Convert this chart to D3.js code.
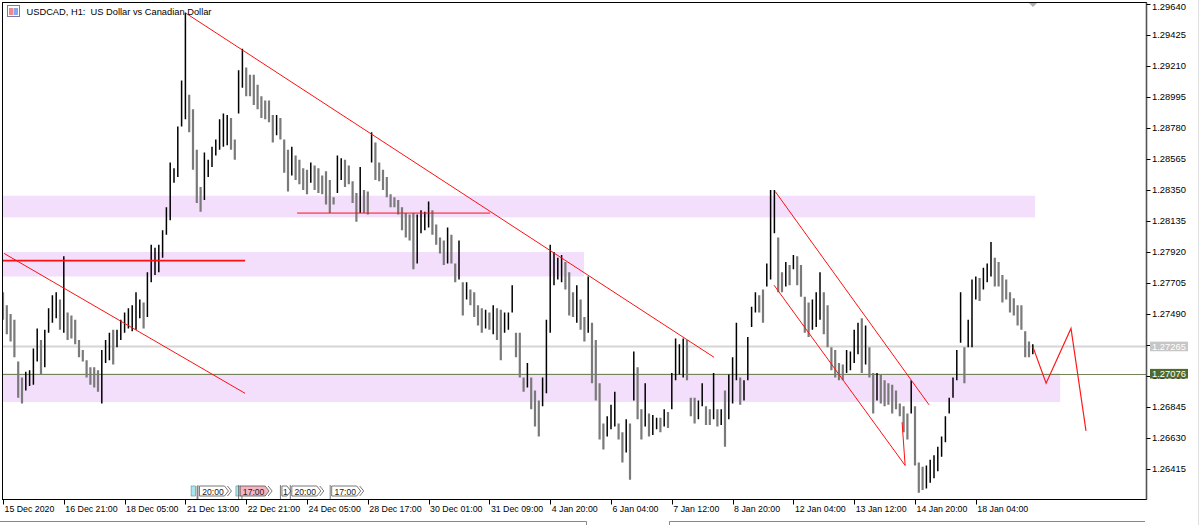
<!DOCTYPE html>
<html><head><meta charset="utf-8">
<script src="https://cdn.jsdelivr.net/npm/d3@7"></script>
<style>
body{margin:0;background:#fff}
svg{display:block}
text{font-family:"Liberation Sans",Arial,sans-serif;white-space:pre}
</style>
</head><body>
<svg id="chart" width="1200" height="525"></svg>
<script>
// ---------------- DATA ----------------
const symbolTitle = "USDCAD, H1:  US Dollar vs Canadian Dollar";

// each entry = one pair of H1 bars (high / low)
const barHigh = [
1.2764,1.2755,1.2749,1.2745,1.2716,1.2705,1.2709,1.2710,1.2725,1.2739,
1.2731,1.2738,1.2753,1.2762,1.2764,1.2759,1.2789,1.2750,1.2748,1.2745,
1.2731,1.2724,1.2717,1.2712,1.2712,1.2710,1.2724,1.2731,1.2736,1.2738,
1.2738,1.2745,1.2750,1.2753,1.2755,1.2764,1.2759,1.2757,1.2778,1.2797,
1.2795,1.2797,1.2807,1.2823,1.2854,1.2850,1.2879,1.2911,1.2958,1.2901,
1.2891,1.2863,1.2837,1.2861,1.2856,1.2865,1.2870,1.2884,1.2888,1.2887,
1.2885,1.2870,1.2918,1.2933,1.2920,1.2915,1.2915,1.2908,1.2900,1.2897,
1.2897,1.2887,1.2887,1.2885,1.2870,1.2863,1.2865,1.2859,1.2856,1.2850,
1.2849,1.2854,1.2852,1.2850,1.2845,1.2848,1.2842,1.2830,1.2859,1.2857,
1.2856,1.2852,1.2841,1.2833,1.2851,1.2835,1.2834,1.2875,1.2868,1.2854,
1.2849,1.2844,1.2832,1.2830,1.2828,1.2823,1.2819,1.2818,1.2819,1.2818,
1.2821,1.2820,1.2827,1.2821,1.2811,1.2802,1.2800,1.2809,1.2804,1.2784,
1.2800,1.2771,1.2771,1.2766,1.2764,1.2755,1.2753,1.2752,1.2750,1.2755,
1.2753,1.2752,1.2750,1.2750,1.2769,1.2736,1.2736,1.2705,1.2715,1.2705,
1.2696,1.2689,1.2705,1.2745,1.2797,1.2792,1.2788,1.2790,1.2785,1.2778,
1.2764,1.2769,1.2759,1.2747,1.2775,1.2743,1.2731,1.2701,1.2673,1.2678,
1.2686,1.2695,1.2673,1.2667,1.2676,1.2673,1.2723,1.2712,1.2683,1.2701,
1.2680,1.2679,1.2677,1.2677,1.2683,1.2681,1.2708,1.2732,1.2728,1.2732,
1.2731,1.2691,1.2691,1.2689,1.2701,1.2685,1.2683,1.2708,1.2683,1.2683,
1.2696,1.2707,1.2719,1.2743,1.2705,1.2703,1.2733,1.2754,1.2764,1.2762,
1.2766,1.2784,1.2835,1.2835,1.2802,1.2778,1.2785,1.2783,1.2790,1.2789,
1.2783,1.2761,1.2757,1.2759,1.2764,1.2778,1.2764,1.2755,1.2726,1.2724,
1.2715,1.2714,1.2724,1.2723,1.2738,1.2743,1.2746,1.2741,1.2726,1.2708,
1.2708,1.2707,1.2703,1.2701,1.2700,1.2696,1.2687,1.2685,1.2680,1.2703,
1.2685,1.2646,1.2643,1.2644,1.2648,1.2651,1.2657,1.2664,1.2678,1.2691,
1.2705,1.2724,1.2764,1.2726,1.2745,1.2773,1.2775,1.2774,1.2781,1.2784,
1.2799,1.2788,1.2785,1.2776,1.2773,1.2764,1.2760,1.2755,1.2755,1.2737,
1.2730,1.2728];

const barLow = [
1.2745,1.2735,1.2730,1.2719,1.2691,1.2687,1.2696,1.2699,1.2700,1.2716,
1.2707,1.2712,1.2736,1.2743,1.2746,1.2738,1.2736,1.2731,1.2732,1.2728,
1.2719,1.2716,1.2705,1.2700,1.2698,1.2695,1.2687,1.2715,1.2717,1.2714,
1.2726,1.2731,1.2736,1.2739,1.2737,1.2738,1.2746,1.2739,1.2747,1.2771,
1.2776,1.2778,1.2788,1.2804,1.2814,1.2840,1.2844,1.2879,1.2884,1.2875,
1.2849,1.2826,1.2820,1.2828,1.2844,1.2851,1.2859,1.2863,1.2865,1.2866,
1.2863,1.2856,1.2888,1.2906,1.2900,1.2900,1.2894,1.2891,1.2885,1.2884,
1.2882,1.2868,1.2873,1.2870,1.2847,1.2834,1.2845,1.2842,1.2839,1.2835,
1.2832,1.2840,1.2835,1.2833,1.2832,1.2825,1.2819,1.2825,1.2833,1.2842,
1.2837,1.2839,1.2826,1.2813,1.2819,1.2819,1.2818,1.2854,1.2842,1.2841,
1.2835,1.2830,1.2823,1.2823,1.2818,1.2807,1.2802,1.2800,1.2780,1.2784,
1.2805,1.2807,1.2809,1.2804,1.2797,1.2791,1.2783,1.2784,1.2784,1.2771,
1.2773,1.2748,1.2759,1.2755,1.2747,1.2741,1.2736,1.2739,1.2738,1.2735,
1.2731,1.2717,1.2736,1.2738,1.2750,1.2719,1.2705,1.2695,1.2698,1.2683,
1.2671,1.2664,1.2685,1.2694,1.2736,1.2769,1.2773,1.2771,1.2766,1.2748,
1.2747,1.2743,1.2738,1.2730,1.2736,1.2701,1.2689,1.2662,1.2655,1.2664,
1.2669,1.2671,1.2662,1.2646,1.2653,1.2634,1.2689,1.2676,1.2662,1.2671,
1.2664,1.2665,1.2669,1.2667,1.2671,1.2670,1.2683,1.2703,1.2707,1.2705,
1.2703,1.2678,1.2673,1.2676,1.2685,1.2672,1.2672,1.2676,1.2671,1.2672,
1.2657,1.2676,1.2687,1.2703,1.2686,1.2689,1.2703,1.2740,1.2750,1.2750,
1.2743,1.2768,1.2773,1.2805,1.2764,1.2764,1.2768,1.2769,1.2780,1.2769,
1.2761,1.2736,1.2733,1.2738,1.2740,1.2745,1.2735,1.2726,1.2710,1.2705,
1.2703,1.2703,1.2708,1.2710,1.2715,1.2721,1.2708,1.2714,1.2705,1.2680,
1.2689,1.2687,1.2685,1.2686,1.2680,1.2683,1.2678,1.2667,1.2662,1.2680,
1.2644,1.2625,1.2627,1.2628,1.2632,1.2635,1.2640,1.2650,1.2660,1.2680,
1.2691,1.2703,1.2729,1.2701,1.2726,1.2726,1.2759,1.2758,1.2766,1.2771,
1.2775,1.2768,1.2768,1.2757,1.2759,1.2750,1.2748,1.2741,1.2738,1.2719,
1.2719,1.2721];

const timeLabels = ["15 Dec 2020","16 Dec 21:00","18 Dec 05:00","21 Dec 13:00","22 Dec 21:00",
  "24 Dec 05:00","28 Dec 17:00","30 Dec 01:00","31 Dec 09:00","4 Jan 20:00","6 Jan 04:00",
  "7 Jan 12:00","8 Jan 20:00","12 Jan 04:00","13 Jan 12:00","14 Jan 20:00","18 Jan 04:00"];
const barsPerLabel = 16;

const priceTicks = [1.29640,1.29425,1.29210,1.28995,1.28780,1.28565,1.28350,1.28135,
  1.27920,1.27705,1.27490,1.27275,1.27060,1.26845,1.26630,1.26415];

const askPrice = 1.27265;
const bidPrice = 1.27076;

// supply / demand zones: bar index range and price range
const zoneFrom   = [0, 0, 0];
const zoneTo     = [271.6, 152.9, 278.2];
const zoneTop    = [1.2831, 1.2792, 1.2708];
const zoneBottom = [1.2816, 1.2775, 1.2688];

// trend lines: [barIndex, price] pairs
const trendLines = [
  [[47.9,1.2958],[187.1,1.2719]],
  [[0.3,1.2791],[63.7,1.2694]],
  [[0,1.2786],[63.7,1.2786]],
  [[77.4,1.2819],[128.2,1.2819]],
  [[203.2,1.2834],[243.7,1.2686]],
  [[202.9,1.2769],[237.4,1.2644]],
  [[236.6,1.2674],[237.4,1.2644]]
];
const projection = [[271.05,1.2726],[274.5,1.2701],[281.05,1.2739],[285,1.2668]];

const eventAt    = [49.5, 51.7, 61.3, 62.4, 73.4, 76.0, 86.5];
const eventLabel = ["1", "20:00", "", "17:00", "1", "20:00", "17:00"];
const eventKind  = ["cyan", "plain", "cyan", "pink", "plain", "plain", "plain"];

// ---------------- DRAW ----------------
const svg = d3.select("#chart");
const L = 2.5, R = 1146.5, T = 2.5, B = 499.5;

const x = d3.scaleLinear().domain([0, barHigh.length - 1]).range([3, 3 + (barHigh.length - 1) * 3.8]);
const y = d3.scaleLinear().domain([1.26415, 1.29640]).range([469, 4]);

svg.append("defs").append("clipPath").attr("id","plot")
  .append("rect").attr("x",L).attr("y",T).attr("width",R-L).attr("height",B-T);

const plot = svg.append("g").attr("clip-path","url(#plot)");

// zones
plot.selectAll("rect.zone").data(zoneFrom).join("rect")
  .attr("class","zone")
  .attr("x",(d,i)=>x(zoneFrom[i]))
  .attr("width",(d,i)=>x(zoneTo[i])-x(zoneFrom[i]))
  .attr("y",(d,i)=>y(zoneTop[i]))
  .attr("height",(d,i)=>y(zoneBottom[i])-y(zoneTop[i]))
  .attr("fill","#f3defb");

// ask / bid lines
plot.append("line").attr("x1",L).attr("x2",R).attr("y1",y(askPrice)).attr("y2",y(askPrice))
  .attr("stroke","#d6d6d6").attr("stroke-width",2);
plot.append("line").attr("x1",L).attr("x2",R).attr("y1",Math.round(y(bidPrice))+0.5).attr("y2",Math.round(y(bidPrice))+0.5)
  .attr("stroke","#74845a").attr("stroke-width",1.2);

// bars
const mids = barHigh.map((h,i)=>(h+barLow[i])/2);
const isUp = i => i>0 && mids[i] >= mids[i-1];
plot.selectAll("line.bar").data(barHigh).join("line")
  .attr("class","bar")
  .attr("x1",(d,i)=>x(i)).attr("x2",(d,i)=>x(i))
  .attr("y1",(d,i)=>y(barHigh[i])).attr("y2",(d,i)=>y(barLow[i]))
  .attr("stroke",(d,i)=> isUp(i) ? "#000" : "#7a7a7a")
  .attr("stroke-width",(d,i)=> isUp(i) ? 1.5 : 2.2);

// trend lines
const lineGen = d3.line().x(d=>x(d[0])).y(d=>y(d[1]));
plot.selectAll("path.trend").data(trendLines).join("path")
  .attr("class","trend")
  .attr("d",lineGen)
  .attr("fill","none")
  .attr("stroke","#ff1010")
  .attr("stroke-width",(d,i)=> i===2 ? 1.6 : 1);
plot.append("path").attr("d",lineGen(projection))
  .attr("fill","none").attr("stroke","#ff1a1a").attr("stroke-width",1.2);

// event flags at bottom
const evG = svg.append("g");
eventAt.forEach((a,i)=>{
  const x0 = x(a);
  const lab = eventLabel[i];
  const kind = eventKind[i];
  if (kind === "cyan") {
    evG.append("rect").attr("x",x0).attr("y",486).attr("width",4.5).attr("height",10)
      .attr("fill","#a8e6ee").attr("stroke","#6a8a90").attr("stroke-width",0.6);
    evG.append("line").attr("x1",x0+6).attr("x2",x0+6).attr("y1",486).attr("y2",499)
      .attr("stroke","#555").attr("stroke-width",0.8);
    return;
  }
  const w = lab.length === 1 ? 5 : 25;
  evG.append("line").attr("x1",x0-1.5).attr("x2",x0-1.5).attr("y1",485).attr("y2",499)
    .attr("stroke","#555").attr("stroke-width",0.8);
  evG.append("path")
    .attr("d",`M${x0},486 H${x0+w} L${x0+w+4},491 L${x0+w},496 H${x0} Z`)
    .attr("fill", kind==="pink" ? "#f7b3c2" : "#fff")
    .attr("stroke","#555").attr("stroke-width",0.8);
  if (lab.length > 1) {
    evG.append("path")
      .attr("d",`M${x0+w+3},486 L${x0+w+7},491 L${x0+w+3},496`)
      .attr("fill","none").attr("stroke","#555").attr("stroke-width",0.8);
  }
  evG.append("text").attr("x",x0+ (w+2)/2).attr("y",494.5).attr("text-anchor","middle")
    .attr("font-size",8.6).attr("fill","#222").text(lab);
});

// frame
svg.append("rect").attr("x",L).attr("y",T).attr("width",R-L).attr("height",B-T)
  .attr("fill","none").attr("stroke","#000").attr("stroke-width",1);
svg.append("line").attr("x1",R).attr("x2",R).attr("y1",T).attr("y2",B)
  .attr("stroke","#555").attr("stroke-width",1.6);

// shift marker
svg.append("path").attr("d","M1029,3 L1037,3 L1033,7 Z").attr("fill","#b0b0b0");

// title
const tg = svg.append("g");
tg.append("rect").attr("x",7.5).attr("y",5.5).attr("width",12).attr("height",11)
  .attr("fill","#fff").attr("stroke","#7a7aa0");
tg.append("rect").attr("x",9).attr("y",8).attr("width",4).attr("height",7).attr("fill","#f08a8a");
tg.append("rect").attr("x",13.5).attr("y",8).attr("width",4.5).attr("height",7).attr("fill","#8aa6f0");
tg.append("text").attr("x",26.5).attr("y",14.5).attr("font-size",9.3).attr("fill","#000")
  .attr("xml:space","preserve").text(symbolTitle);

// price axis
const yAxis = svg.append("g");
yAxis.selectAll("line").data(priceTicks).join("line")
  .attr("x1",R).attr("x2",R+4)
  .attr("y1",d=>Math.round(y(d))+0.5).attr("y2",d=>Math.round(y(d))+0.5)
  .attr("stroke","#000");
yAxis.selectAll("text").data(priceTicks).join("text")
  .attr("x",R+5.5).attr("y",d=>Math.max(y(d)+3.4, 10))
  .attr("font-size",9.4).attr("fill","#000")
  .text(d=>d.toFixed(5));

function priceBox(p, bg, fg){
  const yy = y(p);
  svg.append("rect").attr("x",1150).attr("y",yy-4.8).attr("width",38).attr("height",9.6).attr("fill",bg);
  svg.append("text").attr("x",1152).attr("y",yy+3.4).attr("font-size",9.4).attr("fill",fg).text(p.toFixed(5));
}
priceBox(askPrice,"#c6c6c6","#fff");
priceBox(bidPrice,"#4f6a2b","#fff");

// time axis
const xAxis = svg.append("g");
xAxis.selectAll("line").data(timeLabels).join("line")
  .attr("x1",(d,k)=>Math.round(x(k*barsPerLabel))+0.5).attr("x2",(d,k)=>Math.round(x(k*barsPerLabel))+0.5)
  .attr("y1",B).attr("y2",B+5).attr("stroke","#000");
xAxis.selectAll("text").data(timeLabels).join("text")
  .attr("x",(d,k)=>x(k*barsPerLabel)+1.5).attr("y",512)
  .attr("font-size",8.8).attr("fill","#000").text(d=>d);

// bottom tab bar
svg.append("path").attr("d","M0,521.5 H586.5 V525 M669.5,525 V521.5 H1145")
  .attr("fill","none").attr("stroke","#888");
svg.append("line").attr("x1",1198.5).attr("x2",1198.5).attr("y1",0).attr("y2",525).attr("stroke","#e0e0e0");
</script>
</body></html>
